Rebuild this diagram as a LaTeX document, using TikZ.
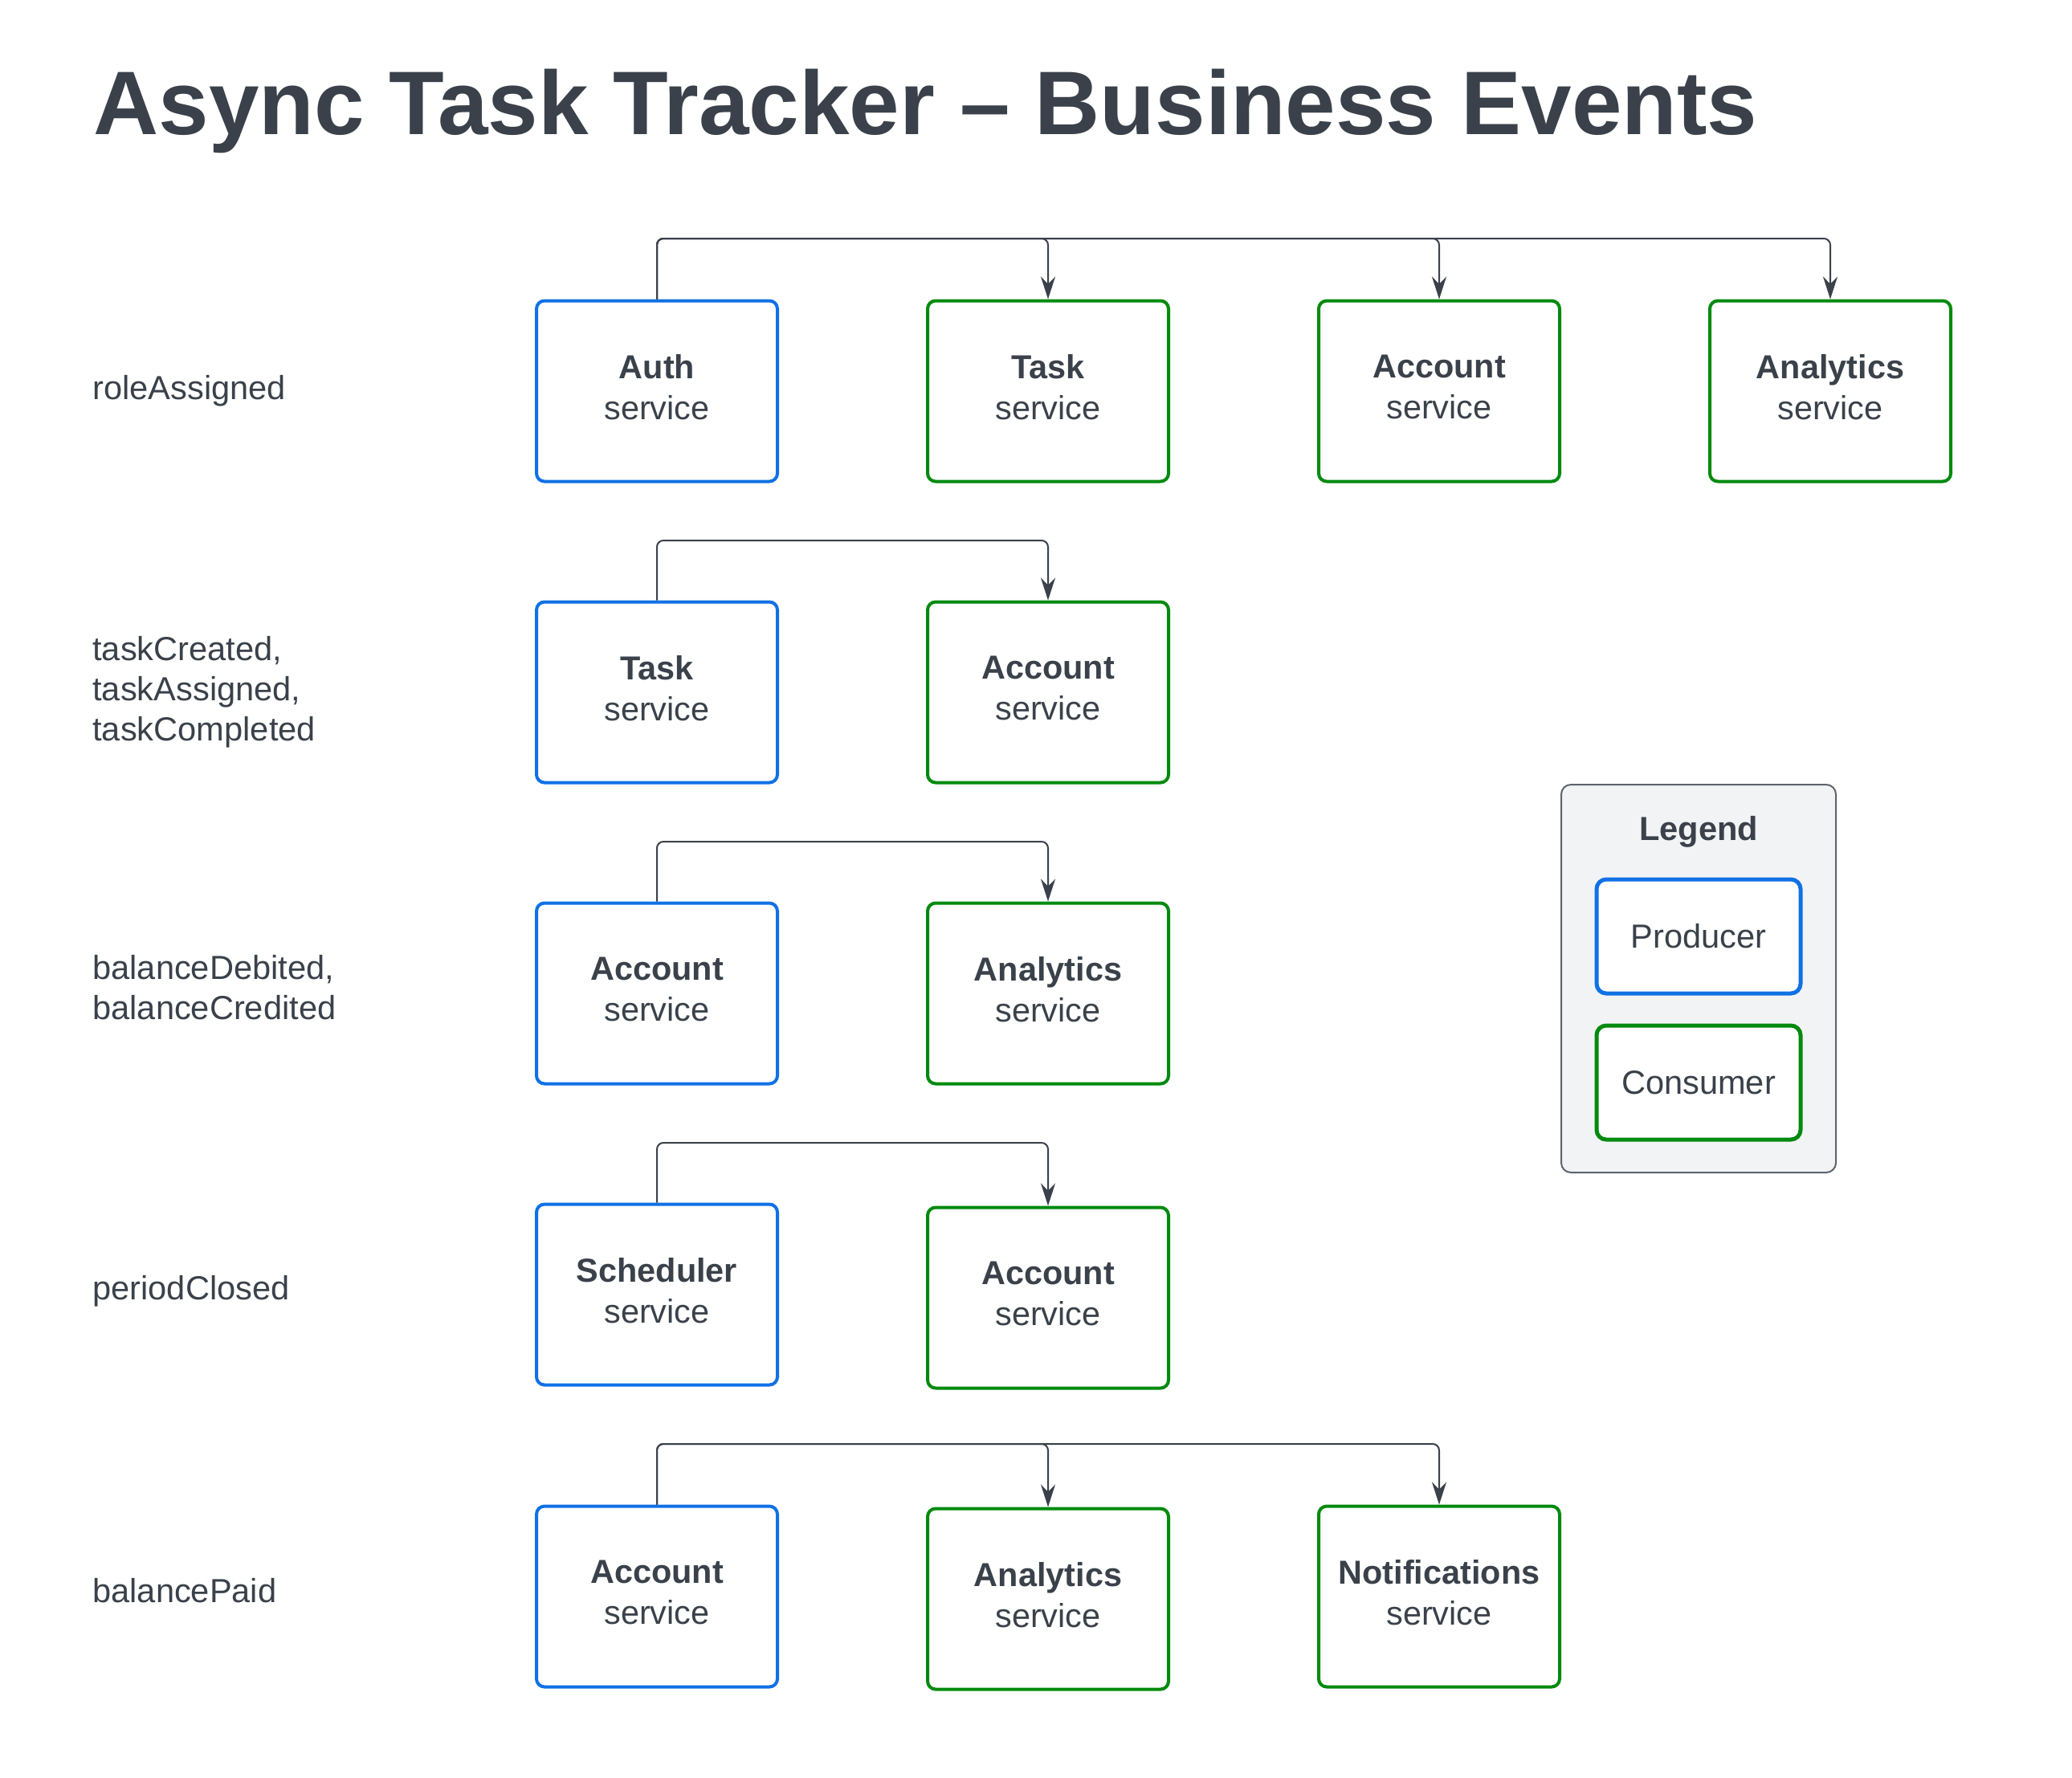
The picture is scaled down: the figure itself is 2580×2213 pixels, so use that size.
\documentclass[tikz,border=0pt]{standalone}
\usepackage{fontspec}
\setmainfont{Liberation Sans}
\usetikzlibrary{arrows.meta}
\definecolor{textc}{HTML}{3A414A}
\definecolor{prodc}{HTML}{1071E5}
\definecolor{consc}{HTML}{008A0E}
\definecolor{legfill}{HTML}{F2F3F5}
\definecolor{legdraw}{HTML}{5E646C}
\tikzset{
  svc/.style={draw, line width=2pt, rounded corners=5pt, fill=white,
    minimum width=150pt, minimum height=112.5pt, inner sep=0pt,
    text depth=5pt,
    align=center, text=textc, font=\fontsize{20.7}{25.5}\selectfont},
  prod/.style={svc, draw=prodc},
  cons/.style={svc, draw=consc},
  evlabel/.style={anchor=west, align=left, text=textc, inner sep=0pt,
    font=\fontsize{20.8}{25}\selectfont},
  conn/.style={draw=textc, line width=1pt, rounded corners=4pt,
    -{Stealth[length=14pt,width=9pt]}},
  legbox/.style={draw=legdraw, line width=1pt, fill=legfill, rounded corners=6pt,
    minimum width=171pt, minimum height=241.5pt, inner sep=0pt},
  legitem/.style={draw, line width=2.5pt, rounded corners=6pt, fill=white,
    minimum width=127pt, minimum height=71pt, inner sep=0pt,
    text=textc, font=\fontsize{20.8}{24}\selectfont}
}
\begin{document}
\begin{tikzpicture}[x=0.5pt,y=-0.5pt]
\useasboundingbox[fill=white] (0,0) rectangle (2580,2213);

\node[anchor=base west, inner sep=0pt, text=textc,
  font=\fontsize{56.2}{60}\selectfont\bfseries] (title) at (116,167)
  {Async Task Tracker – Business Events};

% row 1
\node[evlabel] (l1) at (115,487) {roleAssigned};
\node[prod] (auth1) at (818,487) {\textbf{Auth}\\service};
\node[cons] (task1) at (1305,487) {\textbf{Task}\\service};
\node[cons] (acc1) at (1792,487) {\textbf{Account}\\service};
\node[cons] (ana1) at (2279,487) {\textbf{Analytics}\\service};
\coordinate (h1) at (818,297);
\draw[conn] (auth1.north) -- (auth1.north |- h1) -| (task1.north);
\draw[conn] (auth1.north) -- (auth1.north |- h1) -| (acc1.north);
\draw[conn] (auth1.north) -- (auth1.north |- h1) -| (ana1.north);

% row 2
\node[evlabel] (l2) at (115,862) {taskCreated,\\taskAssigned,\\taskCompleted};
\node[prod] (task2) at (818,862) {\textbf{Task}\\service};
\node[cons] (acc2) at (1305,862) {\textbf{Account}\\service};
\coordinate (h2) at (818,673);
\draw[conn] (task2.north) -- (task2.north |- h2) -| (acc2.north);

% row 3
\node[evlabel] (l3) at (115,1230) {balanceDebited,\\balanceCredited};
\node[prod] (acc3) at (818,1237) {\textbf{Account}\\service};
\node[cons] (ana3) at (1305,1237) {\textbf{Analytics}\\service};
\coordinate (h3) at (818,1048);
\draw[conn] (acc3.north) -- (acc3.north |- h3) -| (ana3.north);

% row 4
\node[evlabel] (l4) at (115,1608) {periodClosed};
\node[prod] (sch4) at (818,1612) {\textbf{Scheduler}\\service};
\node[cons] (acc4) at (1305,1616) {\textbf{Account}\\service};
\coordinate (h4) at (818,1423);
\draw[conn] (sch4.north) -- (sch4.north |- h4) -| (acc4.north);

% row 5
\node[evlabel] (l5) at (115,1981) {balancePaid};
\node[prod] (acc5) at (818,1988) {\textbf{Account}\\service};
\node[cons] (ana5) at (1305,1991) {\textbf{Analytics}\\service};
\node[cons] (not5) at (1792,1988) {\textbf{Notifications}\\service};
\coordinate (h5) at (818,1798);
\draw[conn] (acc5.north) -- (acc5.north |- h5) -| (ana5.north);
\draw[conn] (acc5.north) -- (acc5.north |- h5) -| (not5.north);

% legend
\node[legbox] (leg) at (2115,1218.5) {};
\node[text=textc, inner sep=0pt, font=\fontsize{20.8}{24}\selectfont\bfseries]
  (legt) at (2115,1036) {Legend};
\node[legitem, draw=prodc] (lp) at (2115,1166) {Producer};
\node[legitem, draw=consc] (lc) at (2115,1348) {Consumer};
\end{tikzpicture}
\end{document}
